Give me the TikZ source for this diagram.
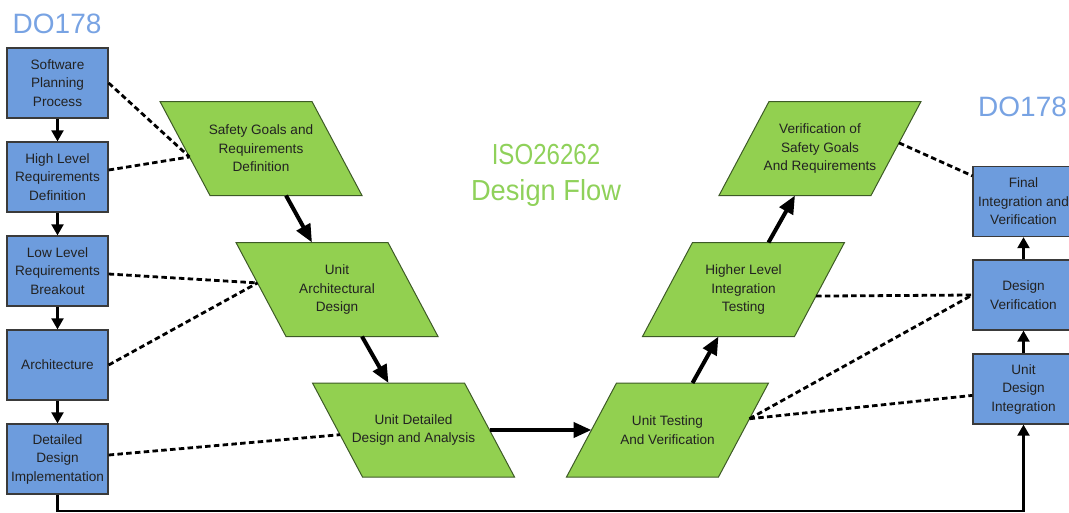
\documentclass[tikz,border=0pt]{standalone}
\usepackage{fontspec}
\setmainfont{Liberation Sans}
\usepackage{graphicx}
\usetikzlibrary{arrows.meta,calc}
\definecolor{boxblue}{HTML}{6D9CDD}
\definecolor{boxedge}{HTML}{3A3A3A}
\definecolor{stepgreen}{HTML}{92D050}
\definecolor{stepedge}{HTML}{3D5A26}
\definecolor{dotitle}{HTML}{78A3E3}
\definecolor{isotitle}{HTML}{8FD15A}
\definecolor{ink}{HTML}{222222}
\tikzset{
  lbl/.style={font=\fontsize{13.6}{18.5}\selectfont, text=ink, align=center},
  dobox/.style={lbl, draw=boxedge, line width=1.3pt, fill=boxblue,
    minimum width=101pt, minimum height=70pt, inner sep=2pt},
  stepshape/.style={draw=stepedge, line width=1pt, fill=stepgreen, line join=miter},
  flow/.style={-{Triangle[length=11pt,width=12pt]}, line width=2.2pt},
  bigflow/.style={-{Triangle[length=18pt,width=15pt]}, line width=4pt},
  trace/.style={dash pattern=on 5.5pt off 3.3pt, line width=2.8pt},
  title/.style={font=\fontsize{28}{33}\selectfont, text=dotitle, inner sep=0pt},
}
% A design-flow step: parallelogram 152 wide per side, 94 high, offset 50.
% #1 name, #2/#3 centre, #4 lean (1 = top shifted left, -1 = top shifted right), #5 text
\newcommand{\vstep}[5]{%
  \coordinate (#1-tl) at ({#2-76-25*(#4)},{#3-47});
  \coordinate (#1-tr) at ({#2+76-25*(#4)},{#3-47});
  \coordinate (#1-br) at ({#2+76+25*(#4)},{#3+47});
  \coordinate (#1-bl) at ({#2-76+25*(#4)},{#3+47});
  \coordinate (#1-top) at ({#2-25*(#4)},{#3-47});
  \coordinate (#1-bot) at ({#2+25*(#4)},{#3+47});
  \coordinate (#1-left) at ({#2-76},{#3});
  \coordinate (#1-right) at ({#2+76},{#3});
  \draw[stepshape] (#1-tl) -- (#1-tr) -- (#1-br) -- (#1-bl) -- cycle;
  \node[lbl] (#1) at (#2,#3) {#5};
}
\begin{document}
\begin{tikzpicture}[x=1pt,y=-1pt]
\useasboundingbox (0,0) rectangle (1069,512);
\clip (0,0) rectangle (1069,512);

% headings
\node[title, anchor=base west] (doL) at (12.5,33) {DO178};
\node[title, anchor=base west] (doR) at (978,116.5) {DO178};
\node[font=\fontsize{29}{36}\selectfont, text=isotitle, align=center, inner sep=0pt] (iso) at (546,175)
  {\scalebox{0.83}[1]{ISO26262}\\\scalebox{0.94}[1]{Design Flow}};

% DO178 process, left column
\node[dobox] (b1) at (57.5,83)  {Software\\Planning\\Process};
\node[dobox] (b2) at (57.5,177) {High Level\\Requirements\\Definition};
\node[dobox] (b3) at (57.5,271) {Low Level\\Requirements\\Breakout};
\node[dobox] (b4) at (57.5,365) {Architecture};
\node[dobox] (b5) at (57.5,459) {Detailed\\Design\\Implementation};

% DO178 process, right column
\node[dobox] (r1) at (1023.5,201.5) {Final\\Integration and\\Verification};
\node[dobox] (r2) at (1023.5,295)   {Design\\Verification};
\node[dobox] (r3) at (1023.5,389)   {Unit\\Design\\Integration};

% ISO26262 V flow
\vstep{p1}{261}{148.5}{1}{Safety Goals and\\Requirements\\Definition}
\vstep{p2}{337}{289.5}{1}{Unit\\Architectural\\Design}
\vstep{p3}{413.5}{430}{1}{Unit Detailed\\Design and Analysis}
\vstep{p4}{667.5}{430}{-1}{Unit Testing\\And Verification}
\vstep{p5}{743.5}{289.5}{-1}{Higher Level\\Integration\\Testing}
\vstep{p6}{820}{148.5}{-1}{Verification of\\Safety Goals\\And Requirements}

% DO178 sequence
\draw[flow] (b1.south) -- (b2.north);
\draw[flow] (b2.south) -- (b3.north);
\draw[flow] (b3.south) -- (b4.north);
\draw[flow] (b4.south) -- (b5.north);
\coordinate (lowrun) at (57.5,511);
\draw[flow] (b5.south) -- (lowrun) -| (r3.south);
\draw[flow] (r3.north) -- (r2.south);
\draw[flow] (r2.north) -- (r1.south);

% V flow
\draw[bigflow] (p1-bot) -- (p2-top);
\draw[bigflow] (p2-bot) -- (p3-top);
\draw[bigflow] (p3-right) -- (p4-left);
\draw[bigflow] (p4-top) -- (p5-bot);
\draw[bigflow] (p5-top) -- (p6-bot);

% correspondences
\coordinate (p1l) at ($(p1-tl)!0.59!(p1-bl)$);
\coordinate (p2l) at ($(p2-tl)!0.43!(p2-bl)$);
\coordinate (p3l) at ($(p3-tl)!0.55!(p3-bl)$);
\coordinate (p4r) at ($(p4-tr)!0.38!(p4-br)$);
\coordinate (p5r) at ($(p5-tr)!0.57!(p5-br)$);
\coordinate (p6r) at ($(p6-tr)!0.44!(p6-br)$);
\draw[trace] (b1.east) -- (p1l);
\draw[trace] ([yshift=7pt]b2.east) -- (p1l);
\draw[trace] ([yshift=-3pt]b3.east) -- (p2l);
\draw[trace] (b4.east) -- (p2l);
\draw[trace] ([yshift=4pt]b5.east) -- (p3l);
\draw[trace] (p6r) -- ($(r1.north west)!0.14!(r1.south west)$);
\draw[trace] (p5r) -- (r2.west);
\draw[trace] (p4r) -- (r2.west);
\draw[trace] (p4r) -- ($(r3.north west)!0.59!(r3.south west)$);
\end{tikzpicture}
\end{document}
